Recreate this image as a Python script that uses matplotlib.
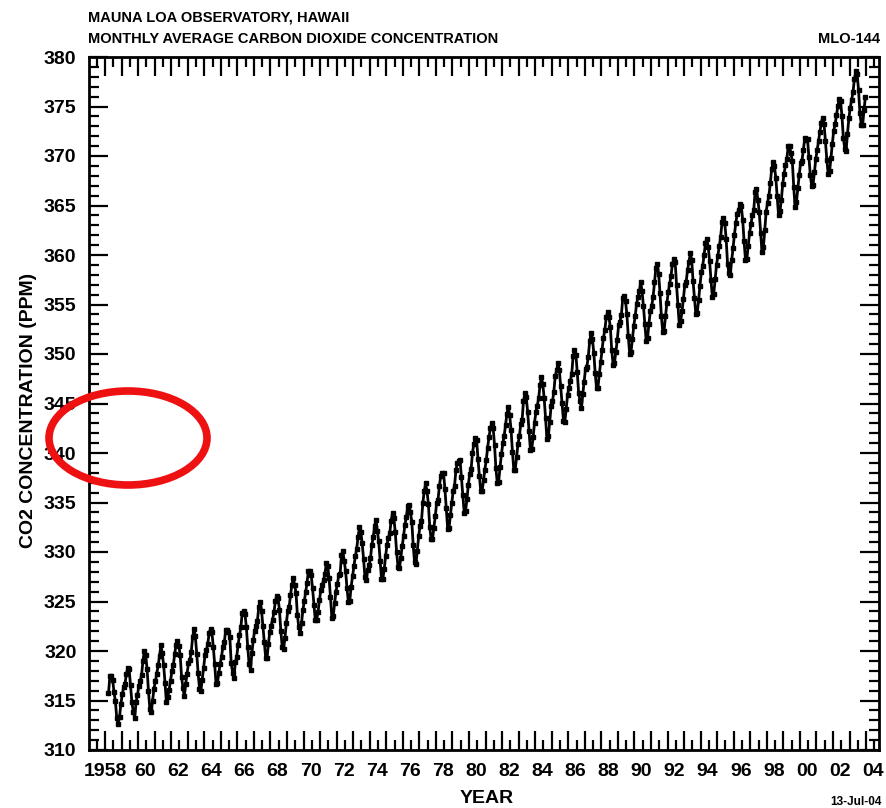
import numpy as np
import matplotlib.pyplot as plt
from matplotlib.patches import Ellipse
from matplotlib.ticker import MultipleLocator, FuncFormatter
from matplotlib.transforms import ScaledTranslation

# monthly mean CO2 (ppm), Mauna Loa, Mar 1958 - Dec 2003
co2_1958 = [315.71, 317.45, 317.50, 317.10, 315.86, 314.93, 313.20, 312.66, 313.33, 314.67]
co2_by_year = {
    1959: [315.62, 316.38, 316.71, 317.72, 318.29, 318.15, 316.54, 314.80, 313.84, 313.26, 314.80, 315.58],
    1960: [316.43, 316.97, 317.58, 319.02, 320.03, 319.59, 318.18, 315.91, 314.16, 313.83, 315.00, 316.19],
    1961: [316.93, 317.70, 318.54, 319.48, 320.58, 319.77, 318.57, 316.79, 314.80, 315.38, 316.10, 317.01],
    1962: [317.94, 318.56, 319.68, 320.63, 321.01, 320.55, 319.58, 317.40, 316.26, 315.42, 316.69, 317.69],
    1963: [318.74, 319.08, 319.86, 321.39, 322.25, 321.47, 319.74, 317.77, 316.21, 315.99, 317.12, 318.31],
    1964: [319.57, 320.07, 320.73, 321.77, 322.25, 321.89, 320.44, 318.70, 316.70, 316.79, 317.79, 318.71],
    1965: [319.44, 320.44, 320.89, 322.13, 322.16, 321.87, 321.39, 318.81, 317.81, 317.30, 318.87, 319.42],
    1966: [320.62, 321.59, 322.39, 323.87, 324.01, 323.75, 322.39, 320.37, 318.64, 318.10, 319.79, 321.08],
    1967: [322.07, 322.50, 323.04, 324.42, 325.00, 324.09, 322.55, 320.92, 319.31, 319.31, 320.72, 321.96],
    1968: [322.57, 323.15, 323.89, 325.02, 325.57, 325.36, 324.14, 322.03, 320.41, 320.25, 321.31, 322.84],
    1969: [324.00, 324.42, 325.64, 326.66, 327.38, 326.70, 325.89, 323.67, 322.38, 321.78, 322.85, 324.11],
    1970: [325.03, 325.99, 326.87, 328.13, 328.07, 327.66, 326.35, 324.69, 323.10, 323.16, 323.98, 325.13],
    1971: [326.17, 326.68, 327.18, 327.78, 328.92, 328.57, 327.34, 325.46, 323.36, 323.57, 324.80, 326.01],
    1972: [326.77, 327.63, 327.75, 329.72, 330.07, 329.09, 328.05, 326.32, 324.93, 325.06, 326.50, 327.55],
    1973: [328.54, 329.56, 330.30, 331.50, 332.48, 332.07, 330.87, 329.31, 327.51, 327.18, 328.16, 328.64],
    1974: [329.35, 330.71, 331.48, 332.65, 333.20, 332.16, 331.07, 329.12, 327.32, 327.28, 328.30, 329.58],
    1975: [330.73, 331.46, 331.90, 333.17, 333.94, 333.45, 331.98, 329.95, 328.50, 328.34, 329.37, 330.58],
    1976: [331.59, 332.75, 333.52, 334.64, 334.77, 334.00, 333.06, 330.68, 328.95, 328.75, 330.15, 331.62],
    1977: [332.66, 333.13, 334.95, 336.13, 336.93, 336.17, 334.88, 332.56, 331.29, 331.27, 332.41, 333.60],
    1978: [334.95, 335.25, 336.66, 337.69, 338.03, 338.01, 336.41, 334.41, 332.37, 332.41, 333.75, 334.90],
    1979: [336.14, 336.69, 338.27, 338.96, 339.21, 339.26, 337.54, 335.75, 333.98, 334.19, 335.31, 336.81],
    1980: [337.90, 338.34, 340.01, 340.93, 341.48, 341.33, 339.40, 337.70, 336.19, 336.15, 337.27, 338.32],
    1981: [339.29, 340.55, 341.61, 342.53, 343.03, 342.54, 340.78, 338.44, 336.95, 337.08, 338.58, 339.88],
    1982: [340.96, 341.73, 342.81, 343.97, 344.63, 343.79, 342.32, 340.09, 338.28, 338.29, 339.60, 340.90],
    1983: [341.68, 342.90, 343.33, 345.25, 346.03, 345.63, 344.19, 342.27, 340.35, 340.38, 341.59, 343.05],
    1984: [344.10, 344.79, 345.52, 346.84, 347.63, 346.98, 345.53, 343.55, 341.40, 341.67, 343.10, 344.70],
    1985: [345.21, 346.16, 347.74, 348.34, 349.06, 348.38, 346.72, 345.02, 343.27, 343.13, 344.49, 345.88],
    1986: [346.56, 347.28, 348.01, 349.77, 350.38, 349.93, 348.16, 346.08, 345.22, 344.51, 345.93, 347.22],
    1987: [348.52, 348.73, 349.73, 351.31, 352.09, 351.53, 350.11, 348.08, 346.52, 346.59, 347.96, 349.16],
    1988: [350.39, 351.64, 352.40, 353.69, 354.21, 353.72, 352.69, 350.40, 348.92, 349.13, 350.20, 351.41],
    1989: [352.91, 353.27, 353.96, 355.64, 355.86, 355.37, 353.99, 351.81, 350.05, 350.25, 351.49, 352.85],
    1990: [353.80, 355.04, 355.73, 356.32, 357.32, 356.34, 354.84, 353.01, 351.31, 351.62, 353.07, 354.33],
    1991: [354.84, 355.73, 357.23, 358.66, 359.13, 358.13, 356.19, 353.85, 352.25, 352.35, 353.81, 355.12],
    1992: [356.25, 357.11, 357.86, 359.09, 359.59, 359.33, 357.01, 354.94, 352.96, 353.32, 354.32, 355.57],
    1993: [357.00, 357.31, 358.47, 359.27, 360.19, 359.52, 357.33, 355.64, 354.03, 354.12, 355.41, 356.91],
    1994: [358.24, 358.92, 359.99, 361.23, 361.65, 360.81, 359.38, 357.46, 355.73, 356.07, 357.53, 358.98],
    1995: [359.92, 360.86, 361.83, 363.30, 363.69, 363.19, 361.64, 359.12, 358.17, 357.99, 359.45, 360.68],
    1996: [362.07, 363.24, 364.17, 364.57, 365.13, 364.92, 363.55, 361.38, 359.54, 359.58, 360.89, 362.24],
    1997: [363.09, 364.03, 364.51, 366.35, 366.64, 365.59, 364.31, 362.25, 360.29, 360.82, 362.49, 364.38],
    1998: [365.26, 365.98, 367.24, 368.66, 369.42, 368.99, 367.82, 365.95, 364.02, 364.40, 365.52, 367.13],
    1999: [368.18, 369.07, 369.68, 370.99, 370.96, 370.30, 369.45, 366.90, 364.81, 365.37, 366.72, 368.10],
    2000: [369.29, 369.54, 370.60, 371.82, 371.58, 371.70, 369.86, 368.13, 367.00, 367.03, 368.37, 369.67],
    2001: [370.59, 371.51, 372.43, 373.37, 373.85, 373.21, 371.51, 369.61, 368.18, 368.45, 369.76, 371.24],
    2002: [372.53, 373.20, 374.12, 375.02, 375.76, 375.52, 374.01, 371.85, 370.75, 370.55, 372.25, 373.79],
    2003: [374.88, 375.64, 376.45, 377.73, 378.60, 378.28, 376.70, 374.38, 373.17, 373.14, 374.66, 375.99],
}

# decimal dates, mid-month
t = [1958 + (m - 0.5) / 12 for m in range(3, 13)]
ppm = list(co2_1958)
for yr, vals in co2_by_year.items():
    t += [yr + (m - 0.5) / 12 for m in range(1, 13)]
    ppm += vals

FONT = ['Liberation Sans Narrow', 'Liberation Sans', 'DejaVu Sans']
plt.rcParams['font.family'] = FONT
plt.rcParams['font.weight'] = 'bold'

fig = plt.figure(figsize=(8.86, 8.08), dpi=100)
ax = fig.add_axes([89 / 886, 58 / 808, 790 / 886, 693 / 808])

ax.plot(t, ppm, color='black', lw=2.0, marker='s', ms=3.4, mec='black', mfc='black')

ax.set_xlim(1957.03, 2004.78)
ax.set_ylim(310, 380)

ax.xaxis.set_major_locator(MultipleLocator(1))
ax.xaxis.set_minor_locator(MultipleLocator(0.5))
ax.yaxis.set_major_locator(MultipleLocator(5))
ax.yaxis.set_minor_locator(MultipleLocator(1))


def year_label(v, pos):
    y = int(round(v))
    if y % 2:
        return ''
    if y == 1958:
        return '1958'
    return '%02d' % (y % 100)


ax.xaxis.set_major_formatter(FuncFormatter(year_label))
ax.tick_params(which='both', direction='in', top=True, right=True, width=1.6,
               labelsize=14, colors='black')
ax.tick_params(which='major', length=14)
ax.tick_params(which='minor', length=7)
ax.tick_params(axis='x', pad=9)
ax.tick_params(axis='y', pad=9)
fig.canvas.draw()
for lab in ax.get_xticklabels():
    if lab.get_text() and lab.get_text() != '1958':
        lab.set_transform(lab.get_transform() + ScaledTranslation(7 / 100, 0, fig.dpi_scale_trans))
for sp in ax.spines.values():
    sp.set_linewidth(2)

ax.set_ylabel('CO2 CONCENTRATION (PPM)', fontsize=14, fontweight='bold')
ax.set_xlabel('YEAR', fontsize=14, fontweight='bold')
ax.yaxis.set_label_coords(-0.066, 0.49)
ax.xaxis.set_label_coords(0.504, -0.058)

fig.text(88 / 886, 1 - 17 / 808, 'MAUNA LOA OBSERVATORY, HAWAII', fontsize=10.5,
         fontweight='bold', va='center', ha='left')
fig.text(88 / 886, 1 - 39 / 808, 'MONTHLY AVERAGE CARBON DIOXIDE CONCENTRATION', fontsize=10.5,
         fontweight='bold', va='center', ha='left')
fig.text(880 / 886, 1 - 39 / 808, 'MLO-144', fontsize=10.5, fontweight='bold',
         va='center', ha='right')
fig.text(882 / 886, 1 - 802 / 808, '13-Jul-04', fontsize=8.5, fontweight='bold',
         va='center', ha='right')

# red highlight ring
fig.patches.append(Ellipse((128 / 886, 1 - 438 / 808), 158 / 886, 94 / 808,
                           transform=fig.transFigure, fill=False, edgecolor='#ee1111',
                           lw=5.5, zorder=10))

fig.savefig('out.png', dpi=100)
